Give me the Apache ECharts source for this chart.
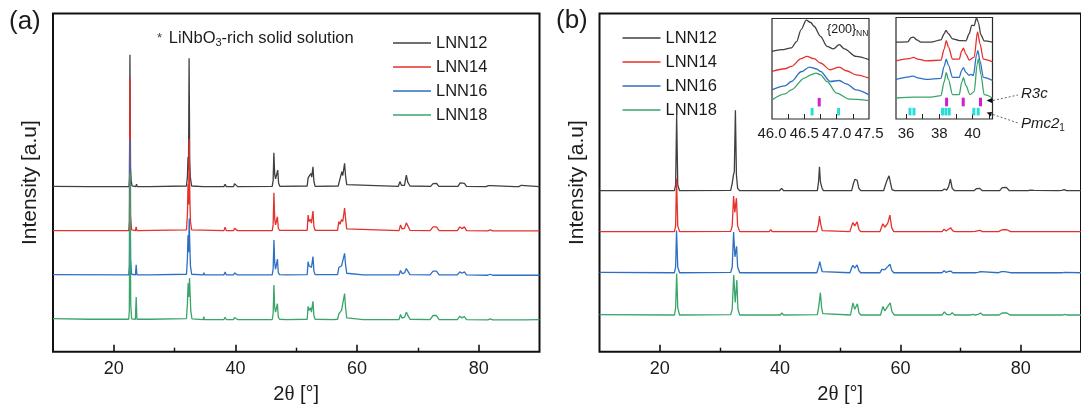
<!DOCTYPE html>
<html>
<head>
<meta charset="utf-8">
<script src="https://cdn.jsdelivr.net/npm/echarts@6/dist/echarts.min.js"></script>
<style>
html,body{margin:0;padding:0;background:#fff;}
#chart{width:1081px;height:411px;}
</style>
</head>
<body>
<div id="chart"></div>
<script>
// ---------- data ----------
const seriesNames = ['LNN12', 'LNN14', 'LNN16', 'LNN18'];

// (a) patterns: [2theta, intensity above the trace's own baseline]
const offsetsA = [48.6, 35.5, 22.4, 9.2];
const patternA_LNN12 = [[10,0.3],[16,0.2],[22.5,0.2],[22.58,3],[22.65,39.2],[22.75,6],[22.85,2],[23.0,0.4],[23.6,0.2],[23.73,0.9],[23.85,0.2],[25.9,0.2],[26.0,0.6],[26.1,0.2],[31.95,0.4],[32.1,3],[32.2,9],[32.28,5],[32.38,38.2],[32.48,8],[32.58,3],[32.8,0.4],[34.7,0.2],[34.8,0.5],[34.9,0.2],[38.1,0.2],[38.3,0.9],[38.5,0.2],[39.7,0.2],[39.85,1.1],[40.0,0.7],[40.15,1.2],[40.35,0.2],[46.05,0.3],[46.2,2],[46.32,10.2],[46.45,4],[46.6,2.5],[46.95,5.1],[47.1,1.2],[47.3,0.3],[51.8,0.4],[51.95,2.8],[52.1,3.1],[52.2,2.5],[52.4,4.1],[52.55,3],[52.75,6.1],[52.9,1.8],[53.1,0.3],[56.9,0.4],[57.15,2.2],[57.3,1.8],[57.5,4.6],[57.65,3.5],[57.95,7.1],[58.1,3.5],[58.3,0.8],[58.6,0.3],[66.8,0.3],[67.05,1.7],[67.3,0.6],[67.8,0.6],[68.1,3.6],[68.35,1.5],[68.7,0.4],[72.1,0.3],[72.5,1.1],[72.75,0.9],[73.05,1.2],[73.45,0.3],[76.6,0.3],[76.95,1.3],[77.25,0.8],[77.65,1.2],[78.0,0.3],[81.2,0.2],[81.6,0.5],[82.0,0.5],[82.3,0.2],[86.0,0.2],[86.3,0.5],[86.6,0.2],[87.0,0.6],[87.3,0.2],[90,0.2]];
const patternA_LNN14 = [[10,0.3],[22.45,0.3],[22.55,3],[22.65,45.3],[22.76,5],[22.92,0.5],[23.55,0.3],[23.68,1.4],[23.8,0.3],[31.95,0.5],[32.1,5],[32.2,14],[32.3,8],[32.4,27.5],[32.5,10],[32.6,3],[32.8,0.5],[38.1,0.3],[38.3,1.3],[38.5,0.3],[39.7,0.3],[39.85,1.0],[40.0,0.7],[40.15,1.5],[40.35,0.3],[46.05,0.3],[46.2,2],[46.33,11.5],[46.45,4],[46.6,2],[46.9,4.4],[47.05,1],[47.25,0.4],[51.8,0.4],[51.95,4.9],[52.1,3],[52.35,3.6],[52.5,2.5],[52.75,6.1],[52.9,1.5],[53.1,0.4],[56.8,0.4],[57.0,3.0],[57.2,2.2],[57.45,3.6],[57.65,3],[57.95,7.0],[58.1,4],[58.3,0.8],[58.6,0.3],[66.9,0.3],[67.15,2.0],[67.4,0.8],[67.8,1],[68.1,2.6],[68.4,1.5],[68.7,0.4],[72.0,0.3],[72.5,1.4],[72.75,1],[73.05,1.4],[73.5,0.3],[76.5,0.3],[76.9,1.4],[77.25,0.9],[77.65,1.4],[78.0,0.3],[81.5,0.2],[81.9,0.5],[82.3,0.2],[86.8,0.2],[87.1,0.6],[87.4,0.2],[90,0.2]];
const patternA_LNN16 = [[10,0.4],[22.45,0.3],[22.55,3],[22.65,40.2],[22.76,5],[22.92,0.5],[23.55,0.3],[23.68,3.3],[23.8,0.3],[25.9,0.3],[26.0,0.6],[26.1,0.3],[31.95,0.5],[32.1,5],[32.2,12],[32.3,7],[32.4,17],[32.5,9],[32.6,3],[32.8,0.5],[34.7,0.3],[34.8,1],[34.9,0.3],[38.1,0.3],[38.3,1.2],[38.5,0.3],[39.7,0.3],[39.85,0.9],[40.0,0.6],[40.15,1.4],[40.35,0.3],[46.05,0.3],[46.2,2],[46.33,10.6],[46.45,4],[46.6,2],[46.9,5],[47.05,1],[47.25,0.4],[48.4,0.3],[48.5,0.6],[48.6,0.3],[51.8,0.4],[51.95,4.2],[52.1,3],[52.35,3.5],[52.5,2.5],[52.75,5.7],[52.9,1.5],[53.1,0.4],[56.8,0.4],[57.0,2.5],[57.2,2],[57.45,3],[57.65,2.6],[57.95,6.7],[58.1,3.5],[58.3,0.8],[58.6,0.3],[61.0,0.3],[61.1,0.5],[61.2,0.3],[62.2,0.3],[62.3,0.5],[62.4,0.3],[66.9,0.3],[67.15,1.6],[67.4,0.7],[67.8,0.9],[68.1,2.2],[68.4,1.3],[68.7,0.4],[72.0,0.3],[72.5,1.4],[72.75,1],[73.05,1.4],[73.5,0.3],[76.5,0.3],[76.9,1.2],[77.25,0.8],[77.65,1.2],[78.0,0.3],[81.5,0.2],[81.9,0.5],[82.3,0.2],[86.9,0.2],[87.2,0.7],[87.5,0.2],[90,0.2]];
const patternA_LNN18 = [[10,0.6],[16,0.4],[22.45,0.4],[22.55,3],[22.67,43.6],[22.78,5],[22.93,0.5],[23.55,0.4],[23.68,7],[23.8,0.4],[26.0,0.4],[31.95,0.6],[32.1,5],[32.22,11],[32.32,7],[32.45,12.6],[32.55,8],[32.65,3],[32.85,0.5],[34.7,0.3],[34.8,1.2],[34.9,0.3],[38.1,0.3],[38.3,1.0],[38.5,0.3],[39.7,0.3],[39.85,0.9],[40.0,0.7],[40.15,1.4],[40.35,0.3],[42.4,0.3],[42.5,0.5],[42.6,0.3],[46.05,0.3],[46.2,2],[46.33,10.5],[46.45,4],[46.6,2.5],[46.9,5],[47.05,1],[47.25,0.4],[48.4,0.3],[48.5,0.7],[48.6,0.3],[51.8,0.4],[51.95,4.2],[52.1,3],[52.35,3.8],[52.5,2.5],[52.75,5.7],[52.9,1.5],[53.1,0.4],[56.0,0.3],[56.1,0.5],[56.2,0.3],[56.8,0.4],[57.0,2.0],[57.2,1.8],[57.45,3],[57.65,2.5],[57.95,8.0],[58.1,4],[58.3,0.8],[58.6,0.3],[61.0,0.3],[61.1,0.5],[61.2,0.3],[62.2,0.3],[62.3,0.5],[62.4,0.3],[66.9,0.3],[67.15,1.8],[67.4,0.7],[67.8,1],[68.1,2.5],[68.4,1.4],[68.7,0.4],[72.0,0.3],[72.5,1.5],[72.75,1],[73.05,1.5],[73.5,0.3],[76.5,0.3],[76.9,1.3],[77.25,0.8],[77.65,1.2],[78.0,0.3],[81.5,0.2],[81.9,0.5],[82.3,0.2],[86.9,0.2],[87.2,0.6],[87.5,0.2],[90,0.3]];

// (b) patterns
const offsetsB = [47.3, 35.2, 23.05, 10.55];
const patternB_LNN12 = [[10,0.3],[22.45,0.3],[22.65,2],[22.82,22.7],[23.0,2],[23.3,0.3],[31.8,0.4],[32.05,2.5],[32.25,4.9],[32.4,6],[32.58,24.1],[32.75,5],[32.95,1],[33.3,0.3],[36.3,0.3],[36.5,0.5],[36.7,0.3],[38.2,0.3],[38.45,0.8],[38.7,0.3],[39.9,0.3],[40.25,1.0],[40.6,0.3],[43.4,0.3],[43.6,0.5],[43.8,0.3],[46.2,0.3],[46.4,3],[46.55,7.4],[46.7,3],[46.95,1.2],[47.2,0.3],[51.9,0.3],[52.2,2.5],[52.45,3.7],[52.6,3.2],[52.8,3.4],[53.1,1],[53.4,0.3],[57.2,0.3],[57.5,2],[57.8,3.5],[58.1,4.7],[58.3,3],[58.6,0.6],[59,0.3],[66.9,0.3],[67.3,0.8],[67.7,0.5],[68.0,1.5],[68.3,3.7],[68.6,1],[69.0,0.3],[72.2,0.3],[72.6,0.9],[73.2,1.0],[73.6,0.3],[76.5,0.3],[76.9,1.2],[77.2,1.0],[77.6,1.3],[78.1,0.3],[81.2,0.3],[81.6,0.5],[82.2,0.4],[82.5,0.3],[86.2,0.3],[86.5,0.6],[86.8,0.4],[87.2,0.6],[87.6,0.3],[90,0.3]];
const patternB_LNN14 = [[10,0.3],[22.45,0.3],[22.65,2],[22.8,16],[23.0,2],[23.3,0.3],[31.8,0.4],[32.05,2],[32.28,10.8],[32.48,6],[32.75,10.2],[32.95,2],[33.3,0.3],[38.2,0.3],[38.45,0.9],[38.7,0.3],[39.2,0.3],[39.45,0.6],[39.7,0.3],[40.05,0.3],[40.3,0.8],[40.6,0.3],[46.1,0.3],[46.4,2.5],[46.55,4.9],[46.75,2.5],[47.0,0.6],[47.3,0.3],[51.6,0.3],[51.9,2],[52.1,3.0],[52.4,2],[52.8,3.2],[53.1,1],[53.4,0.3],[56.6,0.3],[56.9,1.8],[57.1,2.6],[57.4,1.6],[57.9,2.8],[58.25,5.2],[58.55,1.5],[58.9,0.3],[66.9,0.3],[67.25,1.0],[67.6,0.5],[68.0,1.0],[68.35,1.4],[68.7,0.5],[69.1,0.3],[71.7,0.3],[72.0,0.5],[72.4,0.4],[73.2,0.7],[73.6,0.3],[76.3,0.3],[76.8,0.8],[77.3,0.9],[77.8,0.8],[78.3,0.3],[81.8,0.3],[82.1,0.4],[82.4,0.3],[87.0,0.3],[87.3,0.4],[87.6,0.3],[90,0.3]];
const patternB_LNN16 = [[10,0.4],[22.45,0.3],[22.65,2],[22.8,12.8],[23.0,2],[23.3,0.3],[31.8,0.4],[32.05,2],[32.28,12.3],[32.5,5],[32.78,8.1],[32.95,2],[33.3,0.3],[38.2,0.3],[38.45,0.6],[38.7,0.3],[39.2,0.3],[39.45,0.5],[39.7,0.3],[40.05,0.3],[40.3,0.7],[40.6,0.3],[46.1,0.3],[46.4,2],[46.6,3.6],[46.8,2],[47.0,0.6],[47.3,0.3],[51.6,0.3],[51.9,1.8],[52.1,2.5],[52.4,1.7],[52.8,2.6],[53.1,0.9],[53.4,0.3],[56.6,0.3],[56.9,1.3],[57.1,1.7],[57.4,1.2],[57.9,2.1],[58.25,2.8],[58.55,1.0],[58.9,0.3],[66.9,0.3],[67.25,0.9],[67.6,0.4],[68.0,0.7],[68.35,0.8],[68.7,0.3],[71.7,0.3],[72.0,0.4],[72.4,0.3],[72.9,0.4],[73.3,0.6],[73.6,0.3],[76.3,0.3],[76.8,0.6],[77.3,0.6],[77.8,0.5],[78.3,0.3],[81.8,0.3],[82.1,0.4],[82.4,0.3],[86.9,0.3],[87.3,0.4],[87.6,0.3],[90,0.3]];
const patternB_LNN18 = [[10,0.4],[22.45,0.3],[22.65,2.5],[22.82,12.6],[23.0,2.5],[23.3,0.3],[31.8,0.4],[32.05,2],[32.3,12.1],[32.55,4],[32.82,10.6],[33.0,2],[33.3,0.3],[38.2,0.3],[38.45,0.8],[38.7,0.3],[39.2,0.3],[39.45,0.6],[39.7,0.3],[40.05,0.3],[40.3,0.9],[40.6,0.3],[46.2,0.4],[46.45,3],[46.7,6.9],[46.9,2.5],[47.1,0.7],[47.4,0.3],[51.7,0.3],[51.95,2.5],[52.1,3.9],[52.4,2],[52.85,3.6],[53.1,1],[53.4,0.3],[56.7,0.3],[56.95,2],[57.1,2.8],[57.4,1.5],[57.95,3],[58.3,3.9],[58.6,1.2],[59.0,0.3],[66.9,0.3],[67.3,1.2],[67.7,0.4],[68.3,0.4],[68.6,1.0],[69.0,0.3],[71.6,0.3],[72.0,0.5],[72.4,0.3],[72.9,0.5],[73.3,0.9],[73.7,0.3],[76.4,0.3],[76.9,0.9],[77.2,0.6],[77.7,0.9],[78.2,0.3],[81.9,0.3],[82.2,0.4],[82.5,0.3],[86.9,0.3],[87.3,0.5],[87.7,0.3],[90,0.3]];

// inset 1: {200} region, stacked traces (already offset)
const inset1_LNN12 = [[46.0,67.3],[46.15,69],[46.3,70.7],[46.38,77],[46.45,89],[46.53,98.3],[46.6,96],[46.65,92.3],[46.75,82.3],[46.85,72.3],[46.95,69.7],[47.04,74],[47.12,69.7],[47.3,62.3],[47.5,59]];
const inset1_LNN14 = [[46.0,47.3],[46.2,50],[46.3,52.3],[46.45,60],[46.54,62.3],[46.65,60],[46.75,55.7],[46.9,49],[47.04,51.7],[47.15,48],[47.3,44],[47.5,40.7]];
const inset1_LNN16 = [[46.0,29],[46.2,33],[46.3,37.3],[46.45,47],[46.58,51.7],[46.68,50],[46.75,47.3],[46.9,37.3],[47.04,38.3],[47.15,35],[47.3,29],[47.5,24]];
const inset1_LNN18 = [[46.0,19],[46.2,25],[46.3,29],[46.5,40.7],[46.6,44],[46.68,45.7],[46.75,44],[46.85,37.3],[47.0,25.7],[47.2,19.7],[47.5,18.3]];
const inset1_R3c = [46.73];
const inset1_Pmc21 = [46.62, 47.03];

// inset 2: 35.4-41.2 region, stacked traces
const inset2_LNN12 = [[35.4,75.7],[36.1,76],[36.3,80],[36.45,80.7],[36.65,78],[36.9,75.7],[37.5,75.7],[38.1,78],[38.3,84],[38.4,87.3],[38.55,84],[38.8,79],[39.2,77.3],[39.6,77],[39.8,84],[39.95,92.3],[40.1,92],[40.24,99.7],[40.35,95],[40.5,83],[40.7,77],[41.2,75.7]];
const inset2_LNN14 = [[35.4,57.3],[36.2,59.5],[36.45,60.7],[36.7,59],[37.2,57.3],[38.1,58],[38.3,69],[38.42,77.3],[38.55,71],[38.8,59],[39.2,59],[39.35,67],[39.45,69.7],[39.6,64],[39.8,58],[40.1,61],[40.3,85.7],[40.45,74],[40.65,59],[41.2,56.3]];
const inset2_LNN16 = [[35.4,39],[36.2,41.5],[36.45,42.3],[36.7,40.5],[37.2,39],[38.1,40],[38.3,52],[38.42,59],[38.55,53],[38.8,41],[39.2,41],[39.35,48],[39.45,50.7],[39.6,46],[39.8,43],[39.9,44],[40.05,43],[40.25,64],[40.32,67.3],[40.45,57],[40.65,41],[41.2,38]];
const inset2_LNN18 = [[35.4,20.7],[36.5,21.5],[37.5,21.5],[38.1,23],[38.3,37],[38.42,45.7],[38.55,39],[38.8,24],[39.2,24],[39.35,36],[39.45,40.7],[39.6,33],[39.85,24],[40.1,27],[40.28,54],[40.35,59],[40.5,44],[40.7,24],[41.2,20.7]];
const inset2_R3c = [38.44, 39.44, 40.48];
const inset2_Pmc21 = [36.24, 36.48, 38.2, 38.4, 38.6, 40.08, 40.34];

// LiNbO3-rich solid solution reflections marked on LNN12 in (a)
const asteriskTheta = [23.73, 34.8, 48.4, 53.2, 56.07, 60.9, 62.2];

// axis ticks / labels
const mainMajorTicks = [20, 40, 60, 80];
const mainMinorTicks = [30, 50, 70];
const inset1Ticks = [46.25, 46.5, 46.75, 47.0, 47.25];
const inset1Labels = [46.0, 46.5, 47.0, 47.5];
const inset2Ticks = [36, 37, 38, 39, 40, 41];
const inset2Labels = [36, 38, 40];

// ---------- styling ----------
const COLORS = ['#3f3f3f', '#e4312b', '#2d6fc3', '#39a56a'];
const FONT = '"Liberation Sans", Arial, Helvetica, sans-serif';
const TXT = '#1c1c1c';
const MAGENTA = '#cf1fcf';
const CYAN = '#27dcdc';

const patternsA = [patternA_LNN12, patternA_LNN14, patternA_LNN16, patternA_LNN18];
const patternsB = [patternB_LNN12, patternB_LNN14, patternB_LNN16, patternB_LNN18];
const inset1 = [inset1_LNN12, inset1_LNN14, inset1_LNN16, inset1_LNN18];
const inset2 = [inset2_LNN12, inset2_LNN14, inset2_LNN16, inset2_LNN18];

const shift = (pts, off) => pts.map(p => [p[0], p[1] + off]);

function mainXAxes(gridIndex) {
  return [{
    gridIndex, type: 'value', min: 10, max: 90, position: 'bottom',
    axisLine: { show: false }, splitLine: { show: false },
    axisTick: { show: true, inside: true, length: 7, customValues: mainMajorTicks, lineStyle: { color: '#111', width: 1.6 } },
    axisLabel: { customValues: mainMajorTicks, fontSize: 18, color: TXT, margin: 8, fontFamily: FONT },
    name: '2{t|θ} [°]', nameLocation: 'middle', nameGap: 32,
    nameTextStyle: { fontSize: 20, color: TXT, fontFamily: FONT, rich: { t: { fontSize: 21, fontFamily: '"Liberation Serif", "DejaVu Serif", serif', color: TXT } } }
  }, {
    gridIndex, type: 'value', min: 10, max: 90, position: 'bottom',
    axisLine: { show: false }, splitLine: { show: false },
    axisTick: { show: true, inside: true, length: 4, customValues: mainMinorTicks, lineStyle: { color: '#111', width: 1.4 } },
    axisLabel: { show: false }
  }];
}

function mainYAxis(gridIndex) {
  return {
    gridIndex, type: 'value', min: 0, max: 100,
    axisLine: { show: false }, axisTick: { show: false }, axisLabel: { show: false }, splitLine: { show: false },
    name: 'Intensity [a.u]', nameLocation: 'middle', nameGap: 12,
    nameTextStyle: { fontSize: 21, color: TXT, fontFamily: FONT }
  };
}

function insetXAxis(gridIndex, min, max, ticks, labels, fmt) {
  return {
    gridIndex, type: 'value', min, max, position: 'bottom',
    axisLine: { show: false }, splitLine: { show: false },
    axisTick: { show: true, inside: true, length: 5, customValues: ticks, lineStyle: { color: '#222', width: 1 } },
    axisLabel: { customValues: labels, fontSize: 15, color: TXT, margin: 7, fontFamily: FONT, formatter: fmt }
  };
}

function insetYAxis(gridIndex) {
  return {
    gridIndex, type: 'value', min: 0, max: 100,
    axisLine: { show: false }, axisTick: { show: false }, axisLabel: { show: false }, splitLine: { show: false }
  };
}

const series = [];
// main traces; later series sit on top (LNN12 first, LNN18 last)
seriesNames.forEach((name, i) => {
  series.push({
    type: 'line', name, xAxisIndex: 0, yAxisIndex: 0, data: shift(patternsA[i], offsetsA[i]),
    symbol: 'none', showSymbol: false, silent: true,
    lineStyle: { color: COLORS[i], width: 1.3 }, itemStyle: { color: COLORS[i] }
  });
});
seriesNames.forEach((name, i) => {
  series.push({
    type: 'line', name, xAxisIndex: 2, yAxisIndex: 1, data: shift(patternsB[i], offsetsB[i]),
    symbol: 'none', showSymbol: false, silent: true,
    lineStyle: { color: COLORS[i], width: 1.3 }, itemStyle: { color: COLORS[i] }
  });
});
// zoomed-in traces drawn as gently smoothed curves
seriesNames.forEach((name, i) => {
  series.push({
    type: 'line', name, xAxisIndex: 4, yAxisIndex: 2, data: inset1[i],
    symbol: 'none', showSymbol: false, silent: true, smooth: 0.3, smoothMonotone: 'x',
    lineStyle: { color: COLORS[i], width: 1.3 }, itemStyle: { color: COLORS[i] }
  });
  series.push({
    type: 'line', name, xAxisIndex: 5, yAxisIndex: 3, data: inset2[i],
    symbol: 'none', showSymbol: false, silent: true, smooth: 0.3, smoothMonotone: 'x',
    lineStyle: { color: COLORS[i], width: 1.3 }, itemStyle: { color: COLORS[i] }
  });
});

// reference reflection bars (R3c upper row, Pmc21 lower row)
const ROW_R3C = [12.5, 21];
const ROW_PMC = [3.5, 11];
function barSeries(xAxisIndex, yAxisIndex, positions, row, color) {
  return {
    type: 'custom', xAxisIndex, yAxisIndex, silent: true, z: 5,
    data: positions.map(x => [x, row[0], row[1]]),
    encode: { x: 0, y: [1, 2] },
    renderItem(params, api) {
      const p0 = api.coord([api.value(0), api.value(1)]);
      const p1 = api.coord([api.value(0), api.value(2)]);
      return { type: 'rect', shape: { x: p0[0] - 1.5, y: p1[1], width: 3, height: p0[1] - p1[1] }, style: { fill: color } };
    }
  };
}
series.push(barSeries(4, 2, inset1_R3c, ROW_R3C, MAGENTA));
series.push(barSeries(4, 2, inset1_Pmc21, ROW_PMC, CYAN));
series.push(barSeries(5, 3, inset2_R3c, ROW_R3C, MAGENTA));
series.push(barSeries(5, 3, inset2_Pmc21, ROW_PMC, CYAN));

// asterisks above LNN12 in (a)
series.push({
  type: 'scatter', xAxisIndex: 0, yAxisIndex: 0, silent: true, symbolSize: 1,
  itemStyle: { opacity: 0 },
  data: asteriskTheta.map(t => [t, offsetsA[0] + 1.6]),
  label: { show: true, position: 'inside', formatter: '*', fontSize: 14, color: '#333', fontFamily: FONT }
});

// legend entries drawn as plain line stubs
const legendBase = {
  data: seriesNames, orient: 'vertical', icon: 'rect', itemWidth: 38, itemHeight: 1.6, itemGap: 7,
  selectedMode: false,
  textStyle: { fontSize: 16.5, color: TXT, fontFamily: FONT, lineHeight: 14 }
};

const option = {
  animation: false,
  backgroundColor: '#fff',
  textStyle: { fontFamily: FONT },
  grid: [
    { left: 53, top: 13.5, width: 486.5, height: 338.2, show: true, borderColor: '#111', borderWidth: 2, backgroundColor: 'transparent' },
    { left: 599.5, top: 13.5, width: 484.5, height: 338.2, show: true, borderColor: '#111', borderWidth: 2, backgroundColor: 'transparent' },
    { left: 772, top: 18.5, width: 97, height: 100.5, show: true, borderColor: '#2a2a2a', borderWidth: 1.2, backgroundColor: '#fff' },
    { left: 896, top: 17.5, width: 96.5, height: 101.5, show: true, borderColor: '#2a2a2a', borderWidth: 1.2, backgroundColor: '#fff' }
  ],
  xAxis: [
    ...mainXAxes(0),
    ...mainXAxes(1),
    insetXAxis(2, 46.0, 47.5, inset1Ticks, inset1Labels, v => Number(v).toFixed(1)),
    insetXAxis(3, 35.4, 41.2, inset2Ticks, inset2Labels, v => String(v))
  ],
  yAxis: [mainYAxis(0), mainYAxis(1), insetYAxis(2), insetYAxis(3)],
  legend: [
    Object.assign({ left: 388, top: 29.5 }, legendBase),
    Object.assign({ left: 617.5, top: 24.5 }, legendBase)
  ],
  series,
  graphic: [
    { type: 'text', x: 9, y: 22, silent: true,
      style: { text: '(a)', fontSize: 26, fontFamily: FONT, fill: TXT, verticalAlign: 'middle' } },
    { type: 'text', x: 556, y: 21, silent: true,
      style: { text: '(b)', fontSize: 26, fontFamily: FONT, fill: TXT, verticalAlign: 'middle' } },
    { type: 'text', x: 157, y: 38, silent: true,
      style: {
        text: '{a|*}  {n|LiNbO}{s|3}{n|-rich solid solution}', fill: TXT, verticalAlign: 'middle',
        rich: {
          a: { fontSize: 13, fontFamily: FONT, fill: '#444', lineHeight: 20, verticalAlign: 'middle' },
          n: { fontSize: 16.5, fontFamily: FONT, fill: TXT, lineHeight: 20, verticalAlign: 'middle' },
          s: { fontSize: 11, fontFamily: FONT, fill: TXT, lineHeight: 11, verticalAlign: 'bottom' }
        }
      } },
    { type: 'text', x: 827, y: 30, silent: true, z: 10,
      style: {
        text: '{n|\{200\}}{s|NN}', verticalAlign: 'middle',
        rich: {
          n: { fontSize: 12.5, fontFamily: FONT, fill: TXT, lineHeight: 16, verticalAlign: 'middle' },
          s: { fontSize: 8.5, fontFamily: FONT, fill: TXT, lineHeight: 9, verticalAlign: 'bottom' }
        }
      } },
    // arrows at the right edge of the second inset
    { type: 'polygon', silent: true, z: 10, shape: { points: [[986.5, 100.5], [992, 98], [992, 103]] }, style: { fill: '#111' } },
    { type: 'polygon', silent: true, z: 10, shape: { points: [[986.5, 112.5], [992, 112], [991, 116.5]] }, style: { fill: '#111' } },
    { type: 'line', silent: true, z: 10, shape: { x1: 993, y1: 100.5, x2: 1018, y2: 95 }, style: { stroke: '#666', lineWidth: 1, lineDash: [2, 2] } },
    { type: 'line', silent: true, z: 10, shape: { x1: 993, y1: 114.5, x2: 1018, y2: 123 }, style: { stroke: '#666', lineWidth: 1, lineDash: [2, 2] } },
    { type: 'text', x: 1021, y: 94, silent: true,
      style: { text: 'R3c', fontSize: 15, fontStyle: 'italic', fontFamily: FONT, fill: TXT, verticalAlign: 'middle' } },
    { type: 'text', x: 1021, y: 124, silent: true,
      style: {
        text: '{n|Pmc2}{s|1}', verticalAlign: 'middle',
        rich: {
          n: { fontSize: 15, fontStyle: 'italic', fontFamily: FONT, fill: TXT, lineHeight: 18, verticalAlign: 'middle' },
          s: { fontSize: 10, fontFamily: FONT, fill: TXT, lineHeight: 10, verticalAlign: 'bottom' }
        }
      } }
  ]
};

const chart = echarts.init(document.getElementById('chart'), null, { renderer: 'canvas' });
chart.setOption(option);
</script>
</body>
</html>
